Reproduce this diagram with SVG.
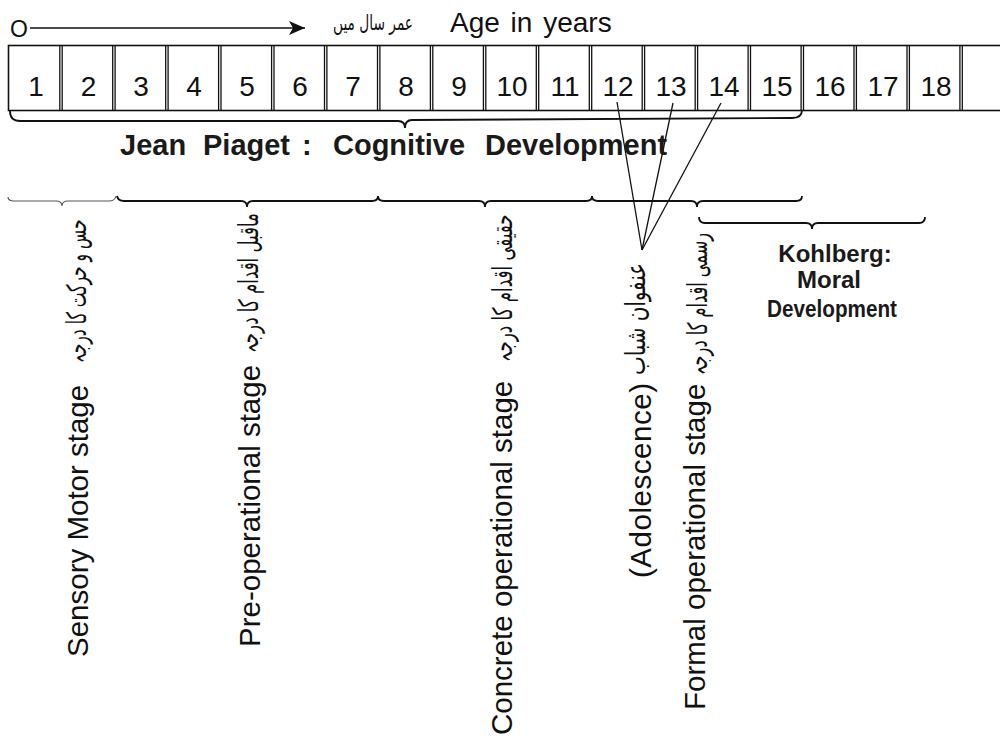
<svg xmlns="http://www.w3.org/2000/svg" width="1000" height="738" viewBox="0 0 1000 738">
<style>
.num{font-family:"Liberation Sans",Arial,sans-serif;font-size:28px;fill:#111;text-anchor:middle}
.lbl{font-family:"Liberation Sans",Arial,sans-serif;font-size:29.5px;fill:#111}
.bold{font-family:"Liberation Sans",Arial,sans-serif;font-weight:bold;fill:#1a1a1a}
.ur{font-family:"DejaVu Sans",sans-serif;font-size:27px;fill:#111;text-anchor:middle}
.box{fill:none;stroke:#111;stroke-width:1.6}
.div{stroke:#111;stroke-width:1.3}
.brace{fill:none;stroke:#111;stroke-width:1.8}
.thin{fill:none;stroke:#555;stroke-width:1.2}
.ln{stroke:#111;stroke-width:1.3;fill:none}
</style>
<defs>
<marker id="ah" viewBox="0 0 16 14" refX="16" refY="7" markerWidth="16" markerHeight="14" markerUnits="userSpaceOnUse" orient="auto">
<path d="M0,0 L16,7 L0,14 L4,7 Z" fill="#111"/>
</marker>
</defs>
<rect width="1000" height="738" fill="#fff"/>

<g id="title-arrow">
<text x="10" y="37" style="font-family:'Liberation Sans',Arial,sans-serif;font-size:23px;fill:#111">O</text>
<line x1="30" y1="28" x2="305" y2="28" stroke="#111" stroke-width="1.5" marker-end="url(#ah)"/>
<text class="ur" x="373" y="30" style="font-size:21px" textLength="80" lengthAdjust="spacingAndGlyphs">عمر سال میں</text>
<text x="450" y="32" style="font-family:'Liberation Sans',Arial,sans-serif;font-size:28px;fill:#111;word-spacing:3px">Age in years</text>
</g>

<g id="age-row">
<rect class="box" x="8.5" y="45.5" width="1000" height="65"/>
<g class="div">
<line x1="59.8" y1="45.5" x2="59.8" y2="110.5"/><line x1="62.2" y1="45.5" x2="62.2" y2="110.5"/>
<line x1="112.7" y1="45.5" x2="112.7" y2="110.5"/><line x1="115.1" y1="45.5" x2="115.1" y2="110.5"/>
<line x1="165.7" y1="45.5" x2="165.7" y2="110.5"/><line x1="168.1" y1="45.5" x2="168.1" y2="110.5"/>
<line x1="218.6" y1="45.5" x2="218.6" y2="110.5"/><line x1="221.0" y1="45.5" x2="221.0" y2="110.5"/>
<line x1="271.6" y1="45.5" x2="271.6" y2="110.5"/><line x1="274.0" y1="45.5" x2="274.0" y2="110.5"/>
<line x1="324.5" y1="45.5" x2="324.5" y2="110.5"/><line x1="326.9" y1="45.5" x2="326.9" y2="110.5"/>
<line x1="377.5" y1="45.5" x2="377.5" y2="110.5"/><line x1="379.9" y1="45.5" x2="379.9" y2="110.5"/>
<line x1="430.4" y1="45.5" x2="430.4" y2="110.5"/><line x1="432.8" y1="45.5" x2="432.8" y2="110.5"/>
<line x1="483.4" y1="45.5" x2="483.4" y2="110.5"/><line x1="485.8" y1="45.5" x2="485.8" y2="110.5"/>
<line x1="536.3" y1="45.5" x2="536.3" y2="110.5"/><line x1="538.7" y1="45.5" x2="538.7" y2="110.5"/>
<line x1="589.3" y1="45.5" x2="589.3" y2="110.5"/><line x1="591.7" y1="45.5" x2="591.7" y2="110.5"/>
<line x1="642.2" y1="45.5" x2="642.2" y2="110.5"/><line x1="644.6" y1="45.5" x2="644.6" y2="110.5"/>
<line x1="695.2" y1="45.5" x2="695.2" y2="110.5"/><line x1="697.6" y1="45.5" x2="697.6" y2="110.5"/>
<line x1="748.1" y1="45.5" x2="748.1" y2="110.5"/><line x1="750.5" y1="45.5" x2="750.5" y2="110.5"/>
<line x1="801.1" y1="45.5" x2="801.1" y2="110.5"/><line x1="803.5" y1="45.5" x2="803.5" y2="110.5"/>
<line x1="854.0" y1="45.5" x2="854.0" y2="110.5"/><line x1="856.4" y1="45.5" x2="856.4" y2="110.5"/>
<line x1="907.0" y1="45.5" x2="907.0" y2="110.5"/><line x1="909.4" y1="45.5" x2="909.4" y2="110.5"/>
<line x1="959.9" y1="45.5" x2="959.9" y2="110.5"/><line x1="962.3" y1="45.5" x2="962.3" y2="110.5"/>
</g>
<text class="num" x="36" y="96">1</text>
<text class="num" x="88.5" y="96">2</text>
<text class="num" x="141" y="96">3</text>
<text class="num" x="194" y="96">4</text>
<text class="num" x="247" y="96">5</text>
<text class="num" x="300" y="96">6</text>
<text class="num" x="353" y="96">7</text>
<text class="num" x="406" y="96">8</text>
<text class="num" x="459" y="96">9</text>
<text class="num" x="512" y="96">10</text>
<text class="num" x="565" y="96">11</text>
<text class="num" x="618" y="96">12</text>
<text class="num" x="671" y="96">13</text>
<text class="num" x="724" y="96">14</text>
<text class="num" x="777" y="96">15</text>
<text class="num" x="830" y="96">16</text>
<text class="num" x="883" y="96">17</text>
<text class="num" x="936" y="96">18</text>
</g>

<g id="connectors">
<path class="brace" d="M10,111 Q10,121 20,121 L398,121 Q405,121 405,128 Q405,120 412,120 L792,118 Q802,118 802,110"/>
<path class="thin" d="M8,197 Q8,201 14,201 L56,201 Q62,201 62,206 Q62,201 68,201 L109,201 Q115,201 116,196"/>
<path class="brace" d="M117,196 Q118,201 124,201 L241,201 Q247,201 247,207 Q247,201 253,201 L372,201 Q378,201 378,196"/>
<path class="brace" d="M378,196 Q378,201 384,201 L479,201 Q485,201 485,207 Q485,201 491,201 L586,201 Q592,201 592,196"/>
<path class="brace" d="M592,196 Q592,201 598,201 L691,201 Q697,201 697,207 Q697,201 703,201 L796,201 Q802,201 802,196"/>
<path class="brace" d="M699,217 Q699,223 705,223 L806,223 Q812,223 812,229 Q812,223 818,223 L919,223 Q925,223 925,217"/>
<line class="ln" x1="617" y1="102" x2="642" y2="250"/>
<line class="ln" x1="673" y1="103" x2="642" y2="250"/>
<line class="ln" x1="721" y1="103" x2="642" y2="250"/>
</g>

<g id="piaget-title">
<text class="bold" y="155" style="font-size:29px"><tspan x="120">Jean</tspan><tspan x="203">Piaget</tspan><tspan x="302">:</tspan><tspan x="333">Cognitive</tspan><tspan x="485">Development</tspan></text>
</g>

<g id="sensory-motor">
<text class="lbl" transform="translate(88,657) rotate(-90)">Sensory Motor stage</text>
<text class="ur" transform="translate(86,291) rotate(-90)" textLength="143" lengthAdjust="spacingAndGlyphs">حس و حرکت کا درجہ</text>
</g>
<g id="pre-operational">
<text class="lbl" transform="translate(260,647) rotate(-90)">Pre-operational stage</text>
<text class="ur" transform="translate(258,283) rotate(-90)" textLength="140" lengthAdjust="spacingAndGlyphs">ماقبل اقدام کا درجہ</text>
</g>
<g id="concrete-operational">
<text class="lbl" transform="translate(512,735) rotate(-90)">Concrete operational stage</text>
<text class="ur" transform="translate(512,288) rotate(-90)" textLength="147" lengthAdjust="spacingAndGlyphs">حقیقی اقدام کا درجہ</text>
</g>
<g id="adolescence">
<text class="lbl" transform="translate(651,578) rotate(-90)" textLength="195" lengthAdjust="spacing">(Adolescence)</text>
<text class="ur" transform="translate(645,319) rotate(-90)" textLength="112" lengthAdjust="spacingAndGlyphs">عنفوان شباب</text>
</g>
<g id="formal-operational">
<text class="lbl" transform="translate(705,710) rotate(-90)">Formal operational stage</text>
<text class="ur" transform="translate(707,304) rotate(-90)" textLength="142" lengthAdjust="spacingAndGlyphs">رسمی اقدام کا درجہ</text>
</g>

<g id="kohlberg">
<text class="bold" x="835" y="262" text-anchor="middle" style="font-size:24px">Kohlberg:</text>
<text class="bold" x="829" y="288" text-anchor="middle" style="font-size:24px">Moral</text>
<text class="bold" x="832" y="317" text-anchor="middle" style="font-size:24px" textLength="130" lengthAdjust="spacingAndGlyphs">Development</text>
</g>
</svg>
